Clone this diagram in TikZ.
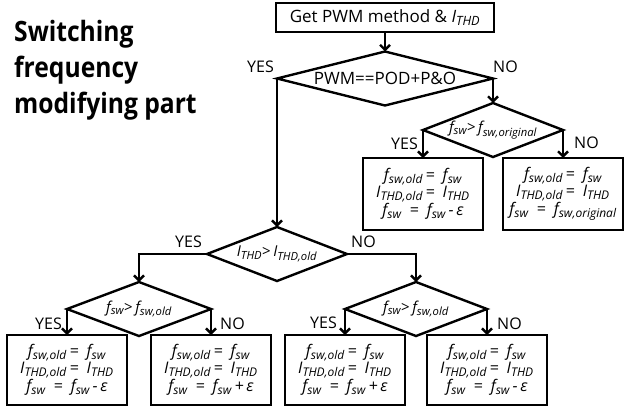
\documentclass[tikz,border=0pt]{standalone}
\usepackage{fontspec}
\setmainfont{Open Sans}
\newfontfamily\titlefont[FakeStretch=0.88]{Open Sans}
\usepackage{tikz}
\usetikzlibrary{arrows.meta, positioning, shapes.geometric}
\def\defaultscriptratio{.75}
\newcommand{\lowidx}[1]{\textsubscript{#1}}
\newcommand{\nowidth}[1]{\makebox[0pt]{#1}}
\newcommand{\keepold}{f\lowidx{sw,old}\,=\enspace f\lowidx{sw}\\ I\lowidx{THD,old}\,=\enspace I\lowidx{THD}}

\begin{document}
\begin{tikzpicture}[x=1pt, y=-1pt,
    decision/.style={draw, diamond, line width=2.4pt, inner sep=0pt, outer sep=0pt,
        minimum width=142pt, minimum height=54pt, font=\itshape\fontsize{15}{15}\selectfont},
    process/.style={draw, rectangle, line width=2.4pt, inner sep=0pt, outer sep=0pt,
        minimum width=120pt, minimum height=70pt, align=center, font=\itshape\fontsize{16}{15.5}\selectfont},
    lbl/.style={inner sep=0pt, font=\fontsize{16}{16}\selectfont},
    flow/.style={line width=2.4pt, -{Straight Barb[length=5pt,width=10pt]}}
]
\useasboundingbox (0,0) rectangle (632,408);

\node[inner sep=0pt, anchor=base west, align=left,
    font=\titlefont\bfseries\fontsize{28}{36}\selectfont] (title) at (14,113) {Switching\\frequency\\modifying part};

% top of the chart
\node[draw, line width=2.4pt, outer sep=0pt, minimum width=218pt, minimum height=29pt,
    font=\fontsize{17}{17}\selectfont] (start) at (385,17.5) {Get PWM method \& \textit{I\lowidx{THD}}};
\node[decision, minimum width=216pt, font=\fontsize{17}{17}\selectfont] (pwm) at (385,78.5) {\nowidth{PWM==POD+P\&O}};
\node[decision, minimum width=140pt] (orig) at (493,130) {\nowidth{f\lowidx{sw}{\upshape >}\,f\lowidx{sw,original}}};
\node[process, minimum height=72pt] (keepA) at (423,194) {\keepold\\ f\lowidx{sw}\enspace=\enspace f\lowidx{sw}\,-\,ε};
\node[process, minimum height=72pt] (keepB) at (563,194) {\keepold\\ f\lowidx{sw}\enspace=\enspace f\lowidx{sw,original}};

% THD branch
\node[decision, minimum width=140pt] (thd) at (277,254) {\nowidth{I\lowidx{THD}{\upshape >}\,I\lowidx{THD,old}}};
\node[decision, minimum width=144pt] (upA) at (139,309) {\nowidth{f\lowidx{sw}{\upshape >}\,f\lowidx{sw,old}}};
\node[decision, minimum width=142pt] (upB) at (416,309) {\nowidth{f\lowidx{sw}{\upshape >}\,f\lowidx{sw,old}}};
\node[process] (stepA) at (67,370) {\keepold\\ f\lowidx{sw}\enspace=\enspace f\lowidx{sw}\,-\,ε};
\node[process] (stepB) at (211,370) {\keepold\\ f\lowidx{sw}\enspace=\enspace f\lowidx{sw}\,+\,ε};
\node[process] (stepC) at (345,370) {\keepold\\ f\lowidx{sw}\enspace=\enspace f\lowidx{sw}\,+\,ε};
\node[process] (stepD) at (487,370) {\keepold\\ f\lowidx{sw}\enspace=\enspace f\lowidx{sw}\,-\,ε};

\draw[flow] (start) -- (pwm);
\draw[flow] (pwm.east) -- (orig.north);
\draw[flow] (pwm.west) -- (thd.north);
\draw[flow] (orig.west) -- (keepA.north);
\draw[flow] (orig.east) -- (keepB.north);
\draw[flow] (thd.west) -| (upA.north);
\draw[flow] (thd.east) -| (upB.north);
\draw[flow] (upA.west) -- (stepA.north);
\draw[flow] (upA.east) -- (stepB.north);
\draw[flow] (upB.west) -- (stepC.north);
\draw[flow] (upB.east) -- (stepD.north);

% yes / no labels
\node[lbl, above left=6pt and 3pt of pwm.west] (yesPwm) {YES};
\node[lbl, above right=6pt and 0pt of pwm.east] (noPwm) {NO};
\node[lbl, below left=8pt and 5pt of orig.west] (yesOrig) {YES};
\node[lbl, below right=7pt and 11pt of orig.east] (noOrig) {NO};
\node[lbl, above left=6pt and 5pt of thd.west] (yesThd) {YES};
\node[lbl, above right=6pt and 4pt of thd.east] (noThd) {NO};
\node[lbl, below left=9pt and 5pt of upA.west] (yesUpA) {YES};
\node[lbl, below right=9pt and 9pt of upA.east] (noUpA) {NO};
\node[lbl, below left=8pt and 8pt of upB.west] (yesUpB) {YES};
\node[lbl, below right=9pt and 10pt of upB.east] (noUpB) {NO};
\end{tikzpicture}
\end{document}
